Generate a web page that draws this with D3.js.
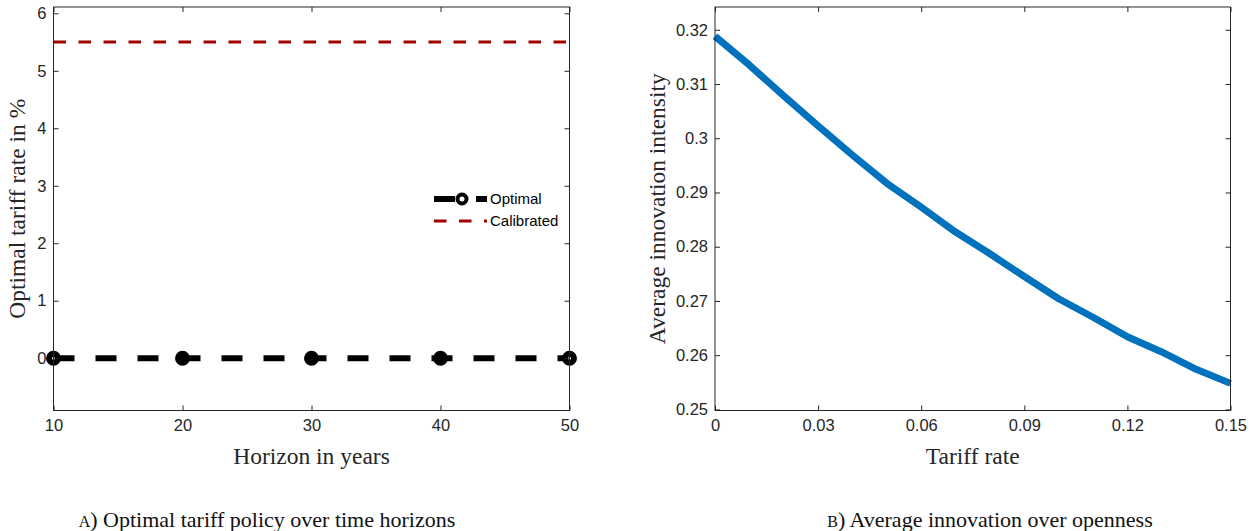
<!DOCTYPE html>
<html>
<head>
<meta charset="utf-8">
<script src="https://cdn.jsdelivr.net/npm/d3@7"></script>
<style>
  body { margin: 0; background: #fff; }
  svg { display: block; }
  .tick text { font-family: "Liberation Sans", Arial, sans-serif; font-size: 16.5px; fill: #262626; }
  .tick line { stroke: #262626; }
  .lbl { font-family: "Liberation Serif", "Times New Roman", serif; font-size: 23.5px; fill: #262626; }
  .cap { font-family: "Liberation Serif", serif; font-size: 22px; fill: #111; }
  .leg { font-family: "Liberation Sans", Arial, sans-serif; font-size: 15px; fill: #000; }
</style>
</head>
<body>
<svg id="chart" width="1255" height="531"></svg>
<script>
// panel A: optimal tariff over horizons
const horizons = [10, 20, 30, 40, 50];
const optimalRate = [0, 0, 0, 0, 0];
const calibratedRate = 5.5;
const leftXTicks = [10, 20, 30, 40, 50];
const leftYTicks = [0, 1, 2, 3, 4, 5, 6];

// panel B: innovation vs tariff
const tariff = [0, 0.01, 0.02, 0.03, 0.04, 0.05, 0.06, 0.07, 0.08, 0.09, 0.10, 0.11, 0.12, 0.13, 0.14, 0.15];
const innovation = [0.3188, 0.3135, 0.3078, 0.3023, 0.2969, 0.2917, 0.2873, 0.2827, 0.2787, 0.2745, 0.2704, 0.2670, 0.2634, 0.2606, 0.2574, 0.2548];
const rightXTicks = [0, 0.03, 0.06, 0.09, 0.12, 0.15];
const rightYTicks = [0.25, 0.26, 0.27, 0.28, 0.29, 0.30, 0.31, 0.32];

const svg = d3.select("#chart");
const plotTop = 7, plotBottom = 410.5;

function frame(g, x, y, xt, yt, xfmt, yfmt) {
    const [x0, x1] = x.range();
    // ticks on all four sides, pointing inward (matlab box)
    g.append("g").attr("transform", `translate(0,${plotBottom})`)
        .call(d3.axisBottom(x).tickValues(xt).tickSize(-5).tickPadding(9).tickFormat(xfmt))
        .call(a => a.select(".domain").remove());
    g.append("g").attr("transform", `translate(0,${plotTop})`)
        .call(d3.axisTop(x).tickValues(xt).tickSize(-5).tickFormat(""))
        .call(a => a.select(".domain").remove());
    g.append("g").attr("transform", `translate(${x0},0)`)
        .call(d3.axisLeft(y).tickValues(yt).tickSize(-5).tickPadding(7).tickFormat(yfmt))
        .call(a => a.select(".domain").remove());
    g.append("g").attr("transform", `translate(${x1},0)`)
        .call(d3.axisRight(y).tickValues(yt).tickSize(-5).tickFormat(""))
        .call(a => a.select(".domain").remove());
    g.append("rect")
        .attr("x", x0).attr("y", plotTop)
        .attr("width", x1 - x0).attr("height", plotBottom - plotTop)
        .attr("fill", "none").attr("stroke", "#262626").attr("stroke-width", 1);
}

// ---------- panel A ----------
const xA = d3.scaleLinear().domain([10, 50]).range([53.5, 569.5]);
const yA = d3.scaleLinear().domain([-0.91, 6.11]).range([plotBottom, plotTop]);
const gA = svg.append("g");

gA.append("line")
    .attr("x1", xA(10)).attr("x2", xA(50))
    .attr("y1", yA(calibratedRate)).attr("y2", yA(calibratedRate))
    .attr("stroke", "#a20000").attr("stroke-width", 3)
    .attr("stroke-dasharray", "12.5,12.5");

gA.append("path")
    .datum(horizons.map((h, i) => [h, optimalRate[i]]))
    .attr("d", d3.line().x(d => xA(d[0])).y(d => yA(d[1])))
    .attr("fill", "none").attr("stroke", "#000").attr("stroke-width", 6)
    .attr("stroke-dasharray", "21,21");

gA.selectAll("circle.opt")
    .data(horizons.map((h, i) => [h, optimalRate[i], i]))
    .join("circle")
    .attr("class", "opt")
    .attr("cx", d => xA(d[0])).attr("cy", d => yA(d[1]))
    .attr("r", 4.5)
    .attr("fill", d => (d[2] === 0 || d[2] === horizons.length - 1) ? "#fff" : "#000")
    .attr("stroke", "#000").attr("stroke-width", 6);

frame(gA, xA, yA, leftXTicks, leftYTicks, d3.format("d"), d3.format("d"));

// legend
const lg = gA.append("g");
lg.append("line").attr("x1", 434).attr("x2", 487).attr("y1", 199).attr("y2", 199)
    .attr("stroke", "#000").attr("stroke-width", 6).attr("stroke-dasharray", "21,21");
lg.append("circle").attr("cx", 462).attr("cy", 199).attr("r", 4.5)
    .attr("fill", "#fff").attr("stroke", "#000").attr("stroke-width", 4);
lg.append("text").attr("class", "leg").attr("x", 490).attr("y", 199).attr("dy", "0.35em").text("Optimal");
lg.append("line").attr("x1", 434).attr("x2", 487).attr("y1", 221).attr("y2", 221)
    .attr("stroke", "#a20000").attr("stroke-width", 3).attr("stroke-dasharray", "12.5,12.5");
lg.append("text").attr("class", "leg").attr("x", 490).attr("y", 221).attr("dy", "0.35em").text("Calibrated");

gA.append("text").attr("class", "lbl").attr("text-anchor", "middle")
    .attr("x", (53.5 + 569.5) / 2).attr("y", 464).text("Horizon in years");
gA.append("text").attr("class", "lbl").attr("text-anchor", "middle")
    .attr("transform", `translate(25,${(plotTop + plotBottom) / 2}) rotate(-90)`)
    .text("Optimal tariff rate in %");

// ---------- panel B ----------
const xB = d3.scaleLinear().domain([0, 0.15]).range([715, 1230.5]);
const yB = d3.scaleLinear().domain([0.2498, 0.3242]).range([plotBottom, plotTop]);
const gB = svg.append("g");

gB.append("path")
    .datum(tariff.map((t, i) => [t, innovation[i]]))
    .attr("d", d3.line().x(d => xB(d[0])).y(d => yB(d[1])))
    .attr("fill", "none").attr("stroke", "#0072bd").attr("stroke-width", 7)
    .attr("stroke-linejoin", "round");

frame(gB, xB, yB, rightXTicks, rightYTicks, d => d === 0 ? "0" : d3.format(".2~f")(d), d3.format(".2~f"));

gB.append("text").attr("class", "lbl").attr("text-anchor", "middle")
    .attr("x", (715 + 1230.5) / 2).attr("y", 464).text("Tariff rate");
gB.append("text").attr("class", "lbl").attr("text-anchor", "middle")
    .attr("transform", `translate(665,${(plotTop + plotBottom) / 2}) rotate(-90)`)
    .text("Average innovation intensity");

// captions
const capA = svg.append("text").attr("class", "cap").attr("text-anchor", "middle")
    .attr("x", 267).attr("y", 527);
capA.append("tspan").style("font-size", "16px").text("A");
capA.append("tspan").text(") Optimal tariff policy over time horizons");

const capB = svg.append("text").attr("class", "cap").attr("text-anchor", "middle")
    .attr("x", 990).attr("y", 527);
capB.append("tspan").style("font-size", "16px").text("B");
capB.append("tspan").text(") Average innovation over openness");
</script>
</body>
</html>
